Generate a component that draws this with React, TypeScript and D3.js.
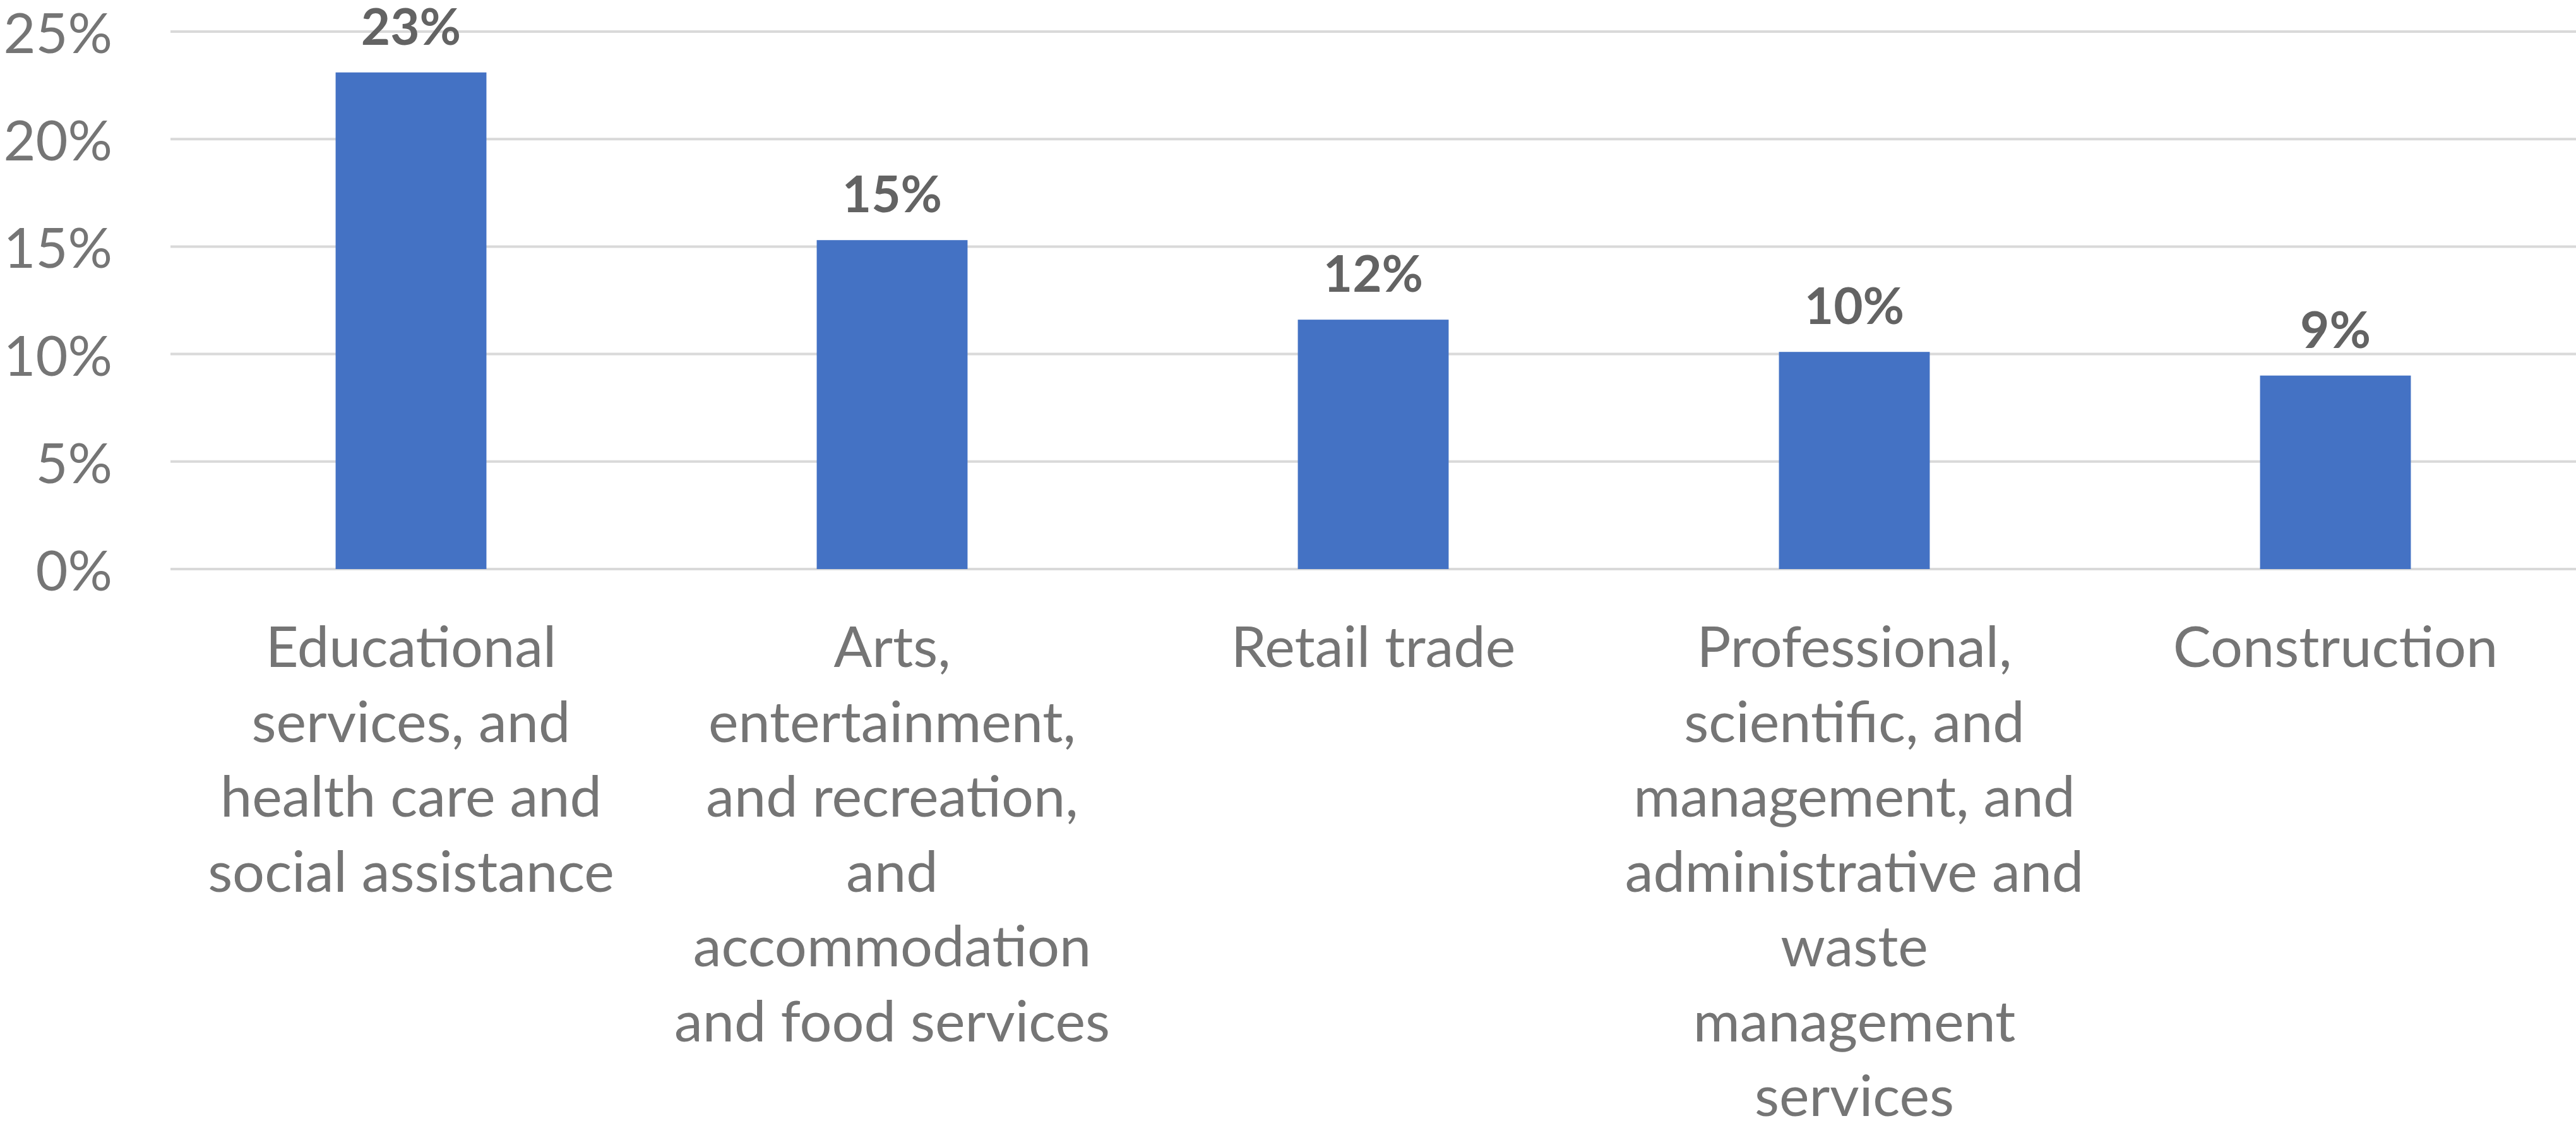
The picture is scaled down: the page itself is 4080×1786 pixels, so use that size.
import React, { useEffect } from "react";
import * as d3 from "d3";

const categories: string[][] = [
  ["Educational", "services, and", "health care and", "social assistance"],
  ["Arts,", "entertainment,", "and recreation,", "and", "accommodation", "and food services"],
  ["Retail trade"],
  ["Professional,", "scientific, and", "management, and", "administrative and", "waste", "management", "services"],
  ["Construction"],
];
const values: number[] = [23.1, 15.3, 11.6, 10.1, 9.0];
const dataLabels: string[] = ["23%", "15%", "12%", "10%", "9%"];
const yTicks: number[] = [0, 5, 10, 15, 20, 25];

const W = 4080;
const H = 1786;
const left = 270;
const right = 4080;
const top = 50;
const bottom = 901;

export default function App() {
  useEffect(() => {
    document.body.style.margin = "0";
  }, []);

  const x = d3.scaleBand<number>().domain(d3.range(values.length)).range([left, right]).paddingInner(0).paddingOuter(0);
  const y = d3.scaleLinear().domain([0, 25]).range([bottom, top]);
  const band = x.bandwidth();
  const barW = band / 3.19;
  const font = "Lato, 'Open Sans', sans-serif";

  return (
    <svg width={W} height={H} style={{ display: "block", background: "#fff" }}>
      {yTicks.map((t) => (
        <g key={t}>
          <line x1={left} x2={right} y1={y(t)} y2={y(t)} stroke="#D9D9D9" strokeWidth={4} />
          <text
            x={178}
            y={y(t)}
            textAnchor="end"
            dominantBaseline="central"
            fontFamily={font}
            fontSize={88}
            fill="#757575"
          >
            {t + "%"}
          </text>
        </g>
      ))}
      {values.map((v, i) => {
        const cx = (x(i) as number) + band / 2;
        return (
          <g key={i}>
            <rect x={cx - barW / 2} y={y(v)} width={barW} height={y(0) - y(v)} fill="#4472C4" />
            <text
              x={cx}
              y={y(v) - 44}
              textAnchor="middle"
              fontFamily={font}
              fontWeight="bold"
              fontSize={80}
              fill="#636363"
            >
              {dataLabels[i]}
            </text>
            {categories[i].map((line, j) => (
              <text
                key={j}
                x={cx}
                y={1056 + j * 118.5}
                textAnchor="middle"
                fontFamily={font}
                fontSize={90}
                fill="#757575"
              >
                {line}
              </text>
            ))}
          </g>
        );
      })}
    </svg>
  );
}
